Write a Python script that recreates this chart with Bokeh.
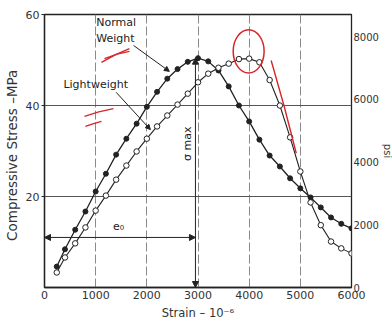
from bokeh.plotting import figure
from bokeh.models import (LinearAxis, Range1d, FixedTicker, Arrow, NormalHead, Label)
from bokeh.embed import file_html
from bokeh.resources import INLINE

# ---- data ----
strain = [240, 400, 600, 800, 1000, 1200, 1400, 1600, 1800, 2000, 2200, 2400,
          2600, 2800, 3000, 3200, 3400, 3600, 3800, 4000, 4200, 4400, 4600,
          4800, 5000, 5200, 5400, 5600, 5800, 6000]
normal_weight = [4.6, 8.4, 12.7, 16.7, 21.1, 25.0, 29.2, 32.7, 36.0, 39.7, 43.0,
                 45.9, 48.0, 49.6, 50.4, 49.7, 47.7, 44.2, 40.0, 36.5, 32.5, 29.0,
                 26.6, 24.0, 21.8, 19.8, 17.6, 15.4, 14.0, 13.0]
lightweight = [3.3, 6.6, 9.7, 13.2, 16.9, 20.2, 23.7, 26.8, 29.9, 32.7, 35.4,
               37.8, 40.2, 42.6, 45.1, 47.0, 48.3, 49.2, 50.2, 50.3, 49.5, 45.6,
               40.0, 33.0, 25.5, 18.7, 13.7, 10.1, 8.6, 7.5]
x_ticks = [0, 1000, 2000, 3000, 4000, 5000, 6000]
y_ticks = [20, 40, 60]
psi_ticks = [0, 2000, 4000, 6000, 8000]
MPA_TO_PSI = 145.038
peak_strain = 2950          # strain at sigma max (e0)
e0_arrow_level = 11.0       # MPa level of the e0 dimension arrow
normal_leader = (1740, 53.2, 2440, 47.5)
light_leader = (1400, 42.9, 2070, 34.7)
# hand-drawn red marks on the scanned page
red_marks = [
    ([1113, 1390, 1660], [49.5, 51.2, 52.5]),
    ([1172, 1420, 1660], [50.3, 51.3, 51.9]),
    ([781, 1060, 1348], [37.6, 38.6, 39.3]),
    ([800, 960, 1113], [35.4, 36.0, 36.5]),
    ([4430, 4680, 4920], [49.9, 40.0, 29.5]),
]
red_circle = (3990, 51.9, 605, 9.5)

FONT = "DejaVu Sans"
INK = "#222222"

p = figure(frame_width=307, frame_height=273, x_range=Range1d(0, 6000), y_range=Range1d(0, 60),
           output_backend="svg", toolbar_location=None,
           min_border_left=41, min_border_right=28, min_border_top=14, min_border_bottom=28)
p.background_fill_color = "white"
p.border_fill_color = "white"
p.outline_line_color = INK
p.outline_line_width = 1.3

# axes
p.xaxis.ticker = FixedTicker(ticks=x_ticks)
p.yaxis.ticker = FixedTicker(ticks=y_ticks)
p.xaxis.axis_label = "Strain – 10⁻⁶"
p.yaxis.axis_label = "Compressive  Stress  –MPa"
for ax in (p.xaxis[0], p.yaxis[0]):
    ax.axis_line_color = INK
    ax.axis_line_width = 1.3
    ax.major_tick_line_color = INK
    ax.minor_tick_line_color = None
    ax.major_tick_in = 0
    ax.major_label_text_font = FONT
    ax.major_label_text_font_size = "11px"
    ax.major_label_text_color = "#333333"
    ax.axis_label_text_font = FONT
    ax.axis_label_text_font_style = "normal"
    ax.axis_label_text_color = "#333333"
p.xaxis.major_tick_out = 0
p.xaxis.major_label_standoff = 3
p.xaxis.axis_label_standoff = 4
p.xaxis.axis_label_text_font_size = "11.5px"
p.yaxis.major_tick_out = 3
p.yaxis.major_label_standoff = 2
p.yaxis.axis_label_standoff = 3
p.yaxis.axis_label_text_font_size = "13.5px"

p.extra_y_ranges = {"psi": Range1d(0, 60 * MPA_TO_PSI)}
ra = LinearAxis(y_range_name="psi", ticker=FixedTicker(ticks=psi_ticks), axis_label="psi")
ra.axis_line_color = None
ra.major_tick_line_color = None
ra.major_tick_out = 0
ra.major_tick_in = 0
ra.minor_tick_line_color = None
ra.major_label_text_font = FONT
ra.major_label_text_font_size = "10px"
ra.major_label_text_color = "#333333"
ra.major_label_standoff = 2
ra.axis_label_standoff = 0
ra.axis_label_text_font = FONT
ra.axis_label_text_font_size = "10px"
ra.axis_label_text_font_style = "normal"
ra.axis_label_text_color = "#333333"
p.add_layout(ra, "right")

# grid
p.xgrid.ticker = FixedTicker(ticks=x_ticks[1:-1])
p.xgrid.grid_line_color = "#8a8a8a"
p.xgrid.grid_line_dash = "9 3"
p.xgrid.grid_line_width = 1
p.ygrid.ticker = FixedTicker(ticks=y_ticks[:-1])
p.ygrid.grid_line_color = "#555555"
p.ygrid.grid_line_width = 1.1

# curves
p.line(strain, normal_weight, line_color=INK, line_width=1.3)
p.scatter(strain, normal_weight, size=5, marker="circle", fill_color=INK, line_color=INK)
p.line(strain, lightweight, line_color=INK, line_width=1.1)
p.scatter(strain, lightweight, size=5.5, marker="circle", fill_color="white",
          line_color=INK, line_width=1)

# dimension arrows
peak_stress = max(normal_weight)
p.add_layout(Arrow(x_start=peak_strain, y_start=0, x_end=peak_strain, y_end=peak_stress,
                   line_color=INK, line_width=1,
                   start=NormalHead(size=6, fill_color=INK, line_color=INK),
                   end=NormalHead(size=6, fill_color=INK, line_color=INK)))
p.add_layout(Arrow(x_start=0, y_start=e0_arrow_level, x_end=peak_strain, y_end=e0_arrow_level,
                   line_color=INK, line_width=1,
                   start=NormalHead(size=6, fill_color=INK, line_color=INK),
                   end=NormalHead(size=6, fill_color=INK, line_color=INK)))
for (xs, ys, xe, ye) in (normal_leader, light_leader):
    p.add_layout(Arrow(x_start=xs, y_start=ys, x_end=xe, y_end=ye,
                       line_color=INK, line_width=1,
                       end=NormalHead(size=5, fill_color=INK, line_color=INK)))

# labels
def lab(x, y, text, size="11px", angle=0, align="left", baseline="middle"):
    p.add_layout(Label(x=x, y=y, text=text, text_font=FONT, text_font_size=size,
                       text_color=INK, angle=angle, text_align=align,
                       text_baseline=baseline))

lab(1010, 59.6, "Normal\nWeight", baseline="top")
lab(370, 44.6, "Lightweight")
lab(1450, 13.4, "e₀", align="center")
lab(2790, 31.6, "σ max", angle=1.5708, align="center")

# red hand marks
for xs, ys in red_marks:
    p.line(xs, ys, line_color="#d8262b", line_width=1.4)
cx, cy, cw, ch = red_circle
p.ellipse(x=[cx], y=[cy], width=cw, height=ch, fill_color=None,
          line_color="#d8262b", line_width=1.5)

open("out.html", "w").write(file_html(p, INLINE))
